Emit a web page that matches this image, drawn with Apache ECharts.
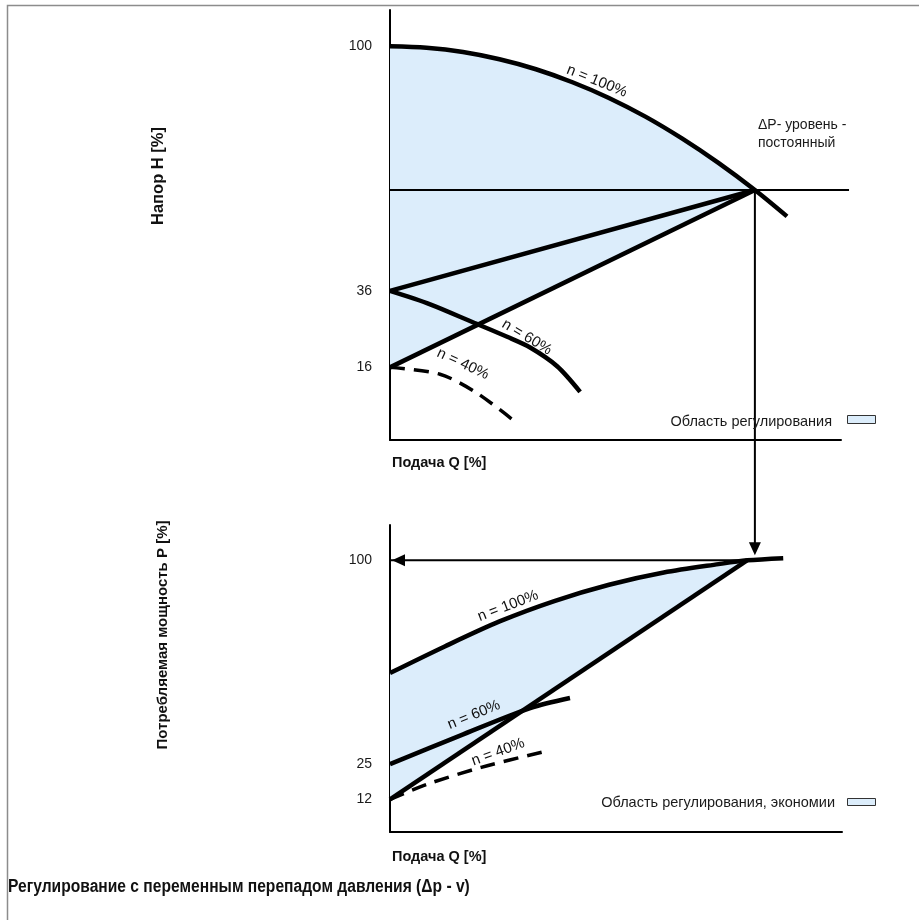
<!DOCTYPE html>
<html>
<head>
<meta charset="utf-8">
<script src="https://cdn.jsdelivr.net/npm/echarts@6/dist/echarts.min.js"></script>
<style>
  html, body { margin: 0; padding: 0; background: #fff; }
  #chart { width: 919px; height: 920px; }
</style>
</head>
<body>
<div id="chart"></div>
<script>
// Head curves (upper panel): flow Q [%] against head H [%]
const headQ100 = [0, 10, 20, 30, 40, 50, 60, 70, 80, 90, 100, 108.8];
const headN100 = [100, 99.6, 98.5, 96.6, 94, 90.6, 86.5, 81.6, 75.9, 69.5, 62.4, 55.5];
const headQ60 = [0, 11, 22.7, 32.1, 38.4, 45.8, 52.1];
const headN60 = [36, 32.5, 27.8, 24, 21.2, 16.3, 9.6];
const headQ40 = [0, 13.7, 23.8, 34.8];
const headN40 = [16, 14.2, 9.3, 1.4];
const dutyPoint = [100, 62.4];        // Q, H of the constant Δp level on n = 100%
const controlStartH = [36, 16];       // H at Q = 0 of the two control lines
const headLevelEndQ = 125.8;          // right end of the Δp level line
const headTicks = [100, 36, 16];

// Power curves (lower panel): flow Q [%] against power P [%]
const powQ100 = [0, 15, 30, 45, 60, 75, 90, 97.8, 107.7];
const powN100 = [58.5, 68.3, 77.5, 85, 91, 95.5, 98.6, 100, 100.8];
const powQ60 = [0, 19.2, 38.4, 49.3];
const powN60 = [25, 35.5, 45.6, 49.3];
const powQ40 = [0, 10, 25, 43];
const powN40 = [12, 17.5, 23.8, 29.8];
const powerPoint = [97.8, 100];
const powerLineStartP = 12;
const powerTicks = [100, 25, 12];

const FONT = '"Liberation Sans", Arial, sans-serif';
const INK = '#000';
const FILL = '#dcedfb';
const zip = (xs, ys) => xs.map((x, i) => [x, ys[i]]);

const chart = echarts.init(document.getElementById('chart'), null, { renderer: 'canvas' });

function curve(idx, data, extra) {
  return Object.assign({
    type: 'line', xAxisIndex: idx, yAxisIndex: idx, data: data,
    symbol: 'none', silent: true, animation: false, clip: false, z: 3,
    lineStyle: { color: INK, width: 4.5, cap: 'butt' }
  }, extra || {});
}

function fillSeries(idx, pts) {
  return {
    type: 'custom', xAxisIndex: idx, yAxisIndex: idx, data: [[0, 0]],
    silent: true, animation: false, clip: false, z: 1,
    renderItem: (params, api) => ({
      type: 'polygon',
      shape: { points: pts.map(p => api.coord(p)) },
      style: { fill: FILL, stroke: null }
    })
  };
}

function xAxisCfg(idx, max) {
  return {
    type: 'value', gridIndex: idx, min: 0, max: max,
    axisLine: { show: true, onZero: false, lineStyle: { color: INK, width: 2 } },
    axisTick: { show: false }, axisLabel: { show: false }, splitLine: { show: false }
  };
}

function yAxisCfg(idx, min, max, ticks) {
  return {
    type: 'value', gridIndex: idx, min: min, max: max,
    axisLine: { show: true, onZero: false, lineStyle: { color: INK, width: 2 } },
    axisTick: { show: false },
    splitLine: { show: false },
    axisLabel: {
      show: true, customValues: ticks, margin: 18,
      fontFamily: FONT, fontSize: 14, color: '#1a1a1a'
    }
  };
}

// shaded control areas
const topFill = zip(headQ100, headN100).filter(p => p[0] <= dutyPoint[0])
  .concat([[0, controlStartH[1]]]);
const botFill = zip(powQ100, powN100).filter(p => p[0] <= powerPoint[0])
  .concat([[0, powerLineStartP]]);

const dash = { color: INK, width: 3.5, type: [15, 9] };

chart.setOption({
  animation: false,
  backgroundColor: '#fff',
  grid: [
    { left: 390, top: 10, width: 451, height: 430 },
    { left: 390, top: 525, width: 452, height: 307 }
  ],
  xAxis: [xAxisCfg(0, 123.6), xAxisCfg(1, 123.8)],
  yAxis: [yAxisCfg(0, -3, 109.5, headTicks), yAxisCfg(1, 0, 113, powerTicks)],
  series: [
    fillSeries(0, topFill),
    fillSeries(1, botFill),
    // upper panel
    curve(0, zip(headQ100, headN100), { smooth: 0.3 }),
    curve(0, zip(headQ60, headN60), { smooth: 0.3 }),
    curve(0, zip(headQ40, headN40), { smooth: 0.3, lineStyle: dash }),
    curve(0, [[0, controlStartH[0]], dutyPoint]),
    curve(0, [[0, controlStartH[1]], dutyPoint]),
    // lower panel
    curve(1, zip(powQ100, powN100), { smooth: 0.3 }),
    curve(1, zip(powQ60, powN60), { smooth: 0.3 }),
    curve(1, zip(powQ40, powN40), { smooth: 0.3, lineStyle: dash }),
    curve(1, [[0, powerLineStartP], powerPoint]),
    curve(1, [[0, powerPoint[1]], powerPoint], { lineStyle: { color: INK, width: 2 }, z: 2 })
  ]
});

// annotations placed from data coordinates
const px = (idx, v) => chart.convertToPixel({ xAxisIndex: idx, yAxisIndex: idx }, v);
const rad = d => d * Math.PI / 180;

function curveLabel(idx, at, text, deg) {
  const p = px(idx, at);
  return {
    type: 'text', x: p[0], y: p[1], rotation: rad(deg), z: 10, silent: true,
    style: { text: text, font: '15px ' + FONT, fill: '#111', align: 'center', verticalAlign: 'middle' }
  };
}

function plainText(x, y, text, opts, extra) {
  return Object.assign({
    type: 'text', x: x, y: y, z: 10, silent: true,
    style: Object.assign({ text: text, font: '14.5px ' + FONT, fill: '#1a1a1a', align: 'left', verticalAlign: 'middle' }, opts || {})
  }, extra || {});
}

const levelStart = px(0, [0, dutyPoint[1]]);
const levelEnd = px(0, [headLevelEndQ, dutyPoint[1]]);
const dutyTop = px(0, dutyPoint);
const dutyBot = px(1, [dutyPoint[0], powerPoint[1]]);
const levelBot = px(1, powerPoint);
const axisBot = px(1, [0, powerPoint[1]]);
const tipY = dutyBot[1] - 5;
const tipX = axisBot[0] + 2;

chart.setOption({
  graphic: [
    // frame
    { type: 'polyline', silent: true, shape: { points: [[7.5, 920], [7.5, 5.5], [919, 5.5]] },
      style: { stroke: '#8c8c8c', lineWidth: 1.5, fill: null } },
    // constant Δp level
    { type: 'line', silent: true, z: 2,
      shape: { x1: levelStart[0], y1: levelStart[1], x2: levelEnd[0], y2: levelEnd[1] },
      style: { stroke: INK, lineWidth: 2 } },
    // vertical arrow from the duty point down to the power curve
    { type: 'line', silent: true, z: 4, shape: { x1: dutyTop[0], y1: dutyTop[1], x2: dutyTop[0], y2: tipY - 10 },
      style: { stroke: INK, lineWidth: 2 } },
    { type: 'polygon', silent: true, z: 4,
      shape: { points: [[dutyTop[0], tipY], [dutyTop[0] - 6, tipY - 13], [dutyTop[0] + 6, tipY - 13]] },
      style: { fill: INK } },
    // horizontal arrow head towards the power axis
    { type: 'polygon', silent: true, z: 4,
      shape: { points: [[tipX, levelBot[1]], [tipX + 13, levelBot[1] - 6], [tipX + 13, levelBot[1] + 6]] },
      style: { fill: INK } },
    // curve labels
    curveLabel(0, [56.7, 90.9], 'n = 100%', -22),
    curveLabel(0, [37.5, 23.9], 'n = 60%', -31),
    curveLabel(0, [20, 16.9], 'n = 40%', -25),
    curveLabel(1, [32.3, 83.2], 'n = 100%', 21),
    curveLabel(1, [23, 43.1], 'n = 60%', 22),
    curveLabel(1, [29.6, 29.4], 'n = 40%', 20),
    // Δp level note
    plainText(758, 134, 'ΔP- уровень -\nпостоянный', { font: '14px ' + FONT, lineHeight: 18 }),
    // legends
    plainText(832, 422, 'Область регулирования', { align: 'right' }),
    { type: 'rect', silent: true, shape: { x: 847.5, y: 415.5, width: 28, height: 8 },
      style: { fill: FILL, stroke: '#333', lineWidth: 1 } },
    plainText(835, 803, 'Область регулирования, экономии', { align: 'right' }),
    { type: 'rect', silent: true, shape: { x: 847.5, y: 798.5, width: 28, height: 7 },
      style: { fill: FILL, stroke: '#333', lineWidth: 1 } },
    // axis titles
    plainText(392, 463, 'Подача Q [%]', { font: 'bold 14.5px ' + FONT, fill: '#111' }),
    plainText(392, 857, 'Подача Q [%]', { font: 'bold 14.5px ' + FONT, fill: '#111' }),
    { type: 'text', x: 158, y: 176, rotation: Math.PI / 2, silent: true, z: 10,
      style: { text: 'Напор H [%]', font: 'bold 16.5px ' + FONT, fill: '#111', align: 'center', verticalAlign: 'middle' } },
    { type: 'text', x: 163, y: 635, rotation: Math.PI / 2, silent: true, z: 10,
      style: { text: 'Потребляемая мощность P [%]', font: 'bold 15px ' + FONT, fill: '#111', align: 'center', verticalAlign: 'middle' } },
    // title
    plainText(8, 887, 'Регулирование с переменным перепадом давления (Δp - v)',
      { font: 'bold 18px ' + FONT, fill: '#111' }, { scaleX: 0.867 })
  ]
});
</script>
</body>
</html>
